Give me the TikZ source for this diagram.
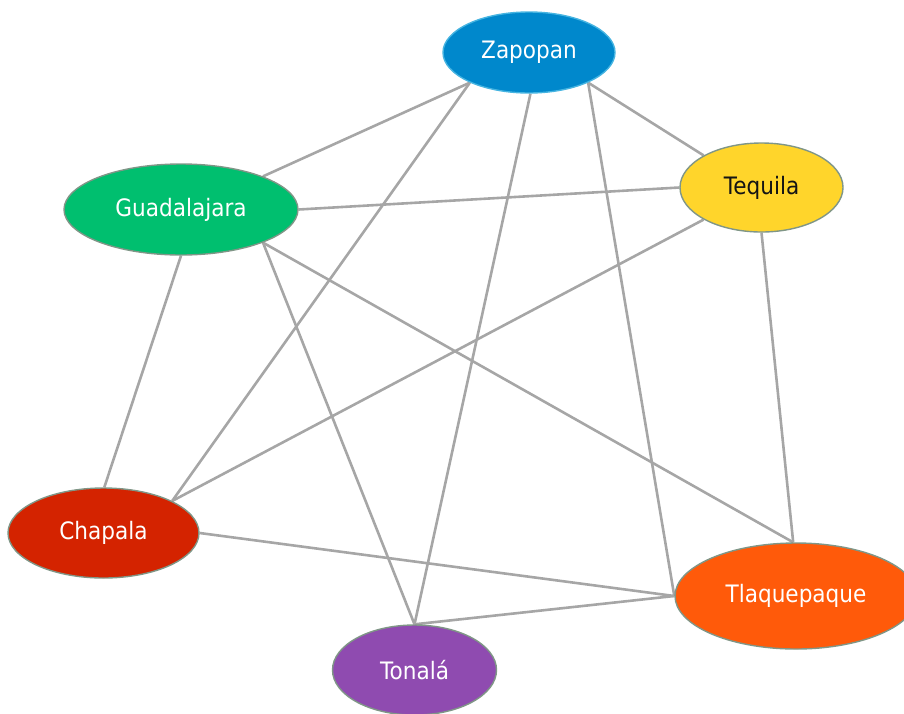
\documentclass[tikz,border=0pt]{standalone}
\usepackage{fontspec}
\setmainfont[FakeStretch=0.9]{DejaVu Sans}
\usetikzlibrary{shapes.geometric,backgrounds}

\definecolor{zapblue}{RGB}{0,136,204}
\definecolor{zaprim}{RGB}{70,180,225}
\definecolor{teqyellow}{RGB}{255,213,43}
\definecolor{gdlgreen}{RGB}{0,191,111}
\definecolor{chared}{RGB}{212,35,0}
\definecolor{tlqorange}{RGB}{255,90,10}
\definecolor{tonpurple}{RGB}{143,75,176}
\definecolor{rimgray}{RGB}{128,150,135}
\definecolor{linkgray}{RGB}{166,166,166}
\definecolor{darktext}{RGB}{20,20,20}

\begin{document}
\begin{tikzpicture}[x=1pt,y=-1pt,
  city/.style={ellipse, draw=rimgray, line width=1.4pt, inner sep=0pt,
    font=\fontsize{24}{28}\selectfont, text=white},
  link/.style={draw=linkgray, line width=2.6pt}]
\useasboundingbox (0,0) rectangle (904,713);
\clip (0,0) rectangle (904,713);

% cities
\node[city, fill=zapblue, draw=zaprim, minimum width=172pt, minimum height=81pt]
  (zap) at (529,52.5) {Zapopan};
\node[city, fill=teqyellow, text=darktext, minimum width=163pt, minimum height=89pt]
  (teq) at (761.5,187.5) {Tequila};
\node[city, fill=gdlgreen, minimum width=234pt, minimum height=91pt]
  (gdl) at (181,209.5) {Guadalajara};
\node[city, fill=chared, minimum width=191pt, minimum height=90pt]
  (cha) at (103.5,533) {Chapala};
\node[city, fill=tlqorange, minimum width=242pt, minimum height=106pt]
  (tlq) at (796,596) {Tlaquepaque};
\node[city, fill=tonpurple, minimum width=164pt, minimum height=90pt]
  (ton) at (414.5,670) {Tonalá};

% connections
\begin{scope}[on background layer]
  \draw[link] (zap.207) -- (gdl.22);
  \draw[link] (zap.207) -- (cha.25);
  \draw[link] (zap.272) -- (ton.90);
  \draw[link] (zap.333) -- (tlq.180);
  \draw[link] (zap.333) -- (teq.151);
  \draw[link] (gdl.0) -- (teq.180);
  \draw[link] (gdl.270) -- (cha.89);
  \draw[link] (gdl.338) -- (ton.90);
  \draw[link] (gdl.338) -- (tlq.93);
  \draw[link] (teq.209) -- (cha.25);
  \draw[link] (teq.270) -- (tlq.93);
  \draw[link] (cha.0) -- (tlq.180);
  \draw[link] (ton.90) -- (tlq.180);
\end{scope}
\end{tikzpicture}
\end{document}
